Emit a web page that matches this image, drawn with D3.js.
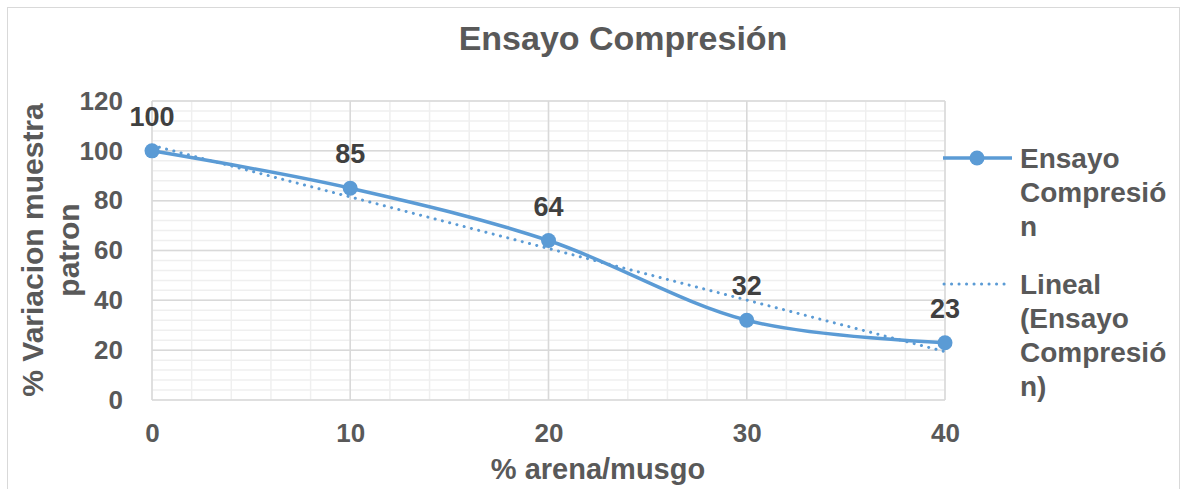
<!DOCTYPE html>
<html>
<head>
<meta charset="utf-8">
<script src="https://cdn.jsdelivr.net/npm/d3@7"></script>
<style>
  body { margin: 0; background: #fff; }
  text { font-family: "Liberation Sans", Arial, sans-serif; font-weight: bold; }
</style>
</head>
<body>
<div id="chart"></div>
<script>
// chart data
var arena = [0, 10, 20, 30, 40];
var variacion = [100, 85, 64, 32, 23];
var xTicks = [0, 10, 20, 30, 40];
var yTicks = [0, 20, 40, 60, 80, 100, 120];
var chartTitle = "Ensayo Compresión";
var xTitle = "% arena/musgo";
var yTitle = ["% Variacion muestra", "patron"];
var legendSerie = ["Ensayo", "Compresió", "n"];
var legendTrend = ["Lineal", "(Ensayo", "Compresió", "n)"];

var svgWidth = 1182;
var svgHeight = 489;
var margin = { top: 101, right: 237, bottom: 89, left: 152 };
var width = svgWidth - margin.left - margin.right;
var height = svgHeight - margin.top - margin.bottom;

var blue = "#5B9BD5";
var textGray = "#595959";

var svg = d3.select("#chart")
    .append("svg")
    .attr("width", svgWidth)
    .attr("height", svgHeight);

// outer chart border
svg.append("rect")
    .attr("x", 7.5).attr("y", 7.5)
    .attr("width", svgWidth - 10).attr("height", svgHeight - 5)
    .attr("fill", "none")
    .attr("stroke", "#d9d9d9");

var chartGroup = svg.append("g")
    .attr("transform", `translate(${margin.left}, ${margin.top})`);

var x = d3.scaleLinear().domain([0, 40]).range([0, width]);
var y = d3.scaleLinear().domain([0, 120]).range([height, 0]);

// minor grid
var minorX = d3.range(0, 40.1, 2);
var minorY = d3.range(0, 120.1, 4);
chartGroup.append("g").selectAll("line")
    .data(minorX).enter().append("line")
    .attr("x1", d => x(d)).attr("x2", d => x(d))
    .attr("y1", 0).attr("y2", height)
    .attr("stroke", "#efefef").attr("stroke-width", 1.5);
chartGroup.append("g").selectAll("line")
    .data(minorY).enter().append("line")
    .attr("x1", 0).attr("x2", width)
    .attr("y1", d => y(d)).attr("y2", d => y(d))
    .attr("stroke", "#efefef").attr("stroke-width", 1.5);

// major grid
chartGroup.append("g").selectAll("line")
    .data(xTicks).enter().append("line")
    .attr("x1", d => x(d)).attr("x2", d => x(d))
    .attr("y1", 0).attr("y2", height)
    .attr("stroke", "#d9d9d9").attr("stroke-width", 1.5);
chartGroup.append("g").selectAll("line")
    .data(yTicks).enter().append("line")
    .attr("x1", 0).attr("x2", width)
    .attr("y1", d => y(d)).attr("y2", d => y(d))
    .attr("stroke", "#d9d9d9").attr("stroke-width", 1.5);

// axes (labels only)
var bottomAxis = d3.axisBottom(x).tickValues(xTicks).tickSize(0).tickPadding(24);
var leftAxis = d3.axisLeft(y).tickValues(yTicks).tickSize(0).tickPadding(29);

var gx = chartGroup.append("g")
    .attr("transform", `translate(0, ${height})`)
    .call(bottomAxis);
var gy = chartGroup.append("g").call(leftAxis);
[gx, gy].forEach(function (g) {
    g.select(".domain").remove();
    g.selectAll("text")
        .attr("fill", textGray)
        .style("font-size", "26px")
        .style("font-family", "'Liberation Sans', Arial, sans-serif")
        .style("font-weight", "bold");
});

// linear trend (least squares)
var mx = d3.mean(arena), my = d3.mean(variacion);
var sxy = d3.sum(arena, (d, i) => (d - mx) * (variacion[i] - my));
var sxx = d3.sum(arena, d => (d - mx) * (d - mx));
var slope = sxy / sxx;
var intercept = my - slope * mx;
var trend = [arena[0], arena[arena.length - 1]].map(d => [d, intercept + slope * d]);

chartGroup.append("path")
    .datum(trend)
    .attr("d", d3.line().x(d => x(d[0])).y(d => y(d[1])))
    .attr("fill", "none")
    .attr("stroke", blue)
    .attr("stroke-width", 3)
    .attr("stroke-linecap", "round")
    .attr("stroke-dasharray", "0.1 7.4");

// smoothed series
var points = arena.map((d, i) => [d, variacion[i]]);
chartGroup.append("path")
    .datum(points)
    .attr("d", d3.line().x(d => x(d[0])).y(d => y(d[1])).curve(d3.curveCardinal.tension(0)))
    .attr("fill", "none")
    .attr("stroke", blue)
    .attr("stroke-width", 3.5);

chartGroup.selectAll("circle")
    .data(points).enter().append("circle")
    .attr("cx", d => x(d[0]))
    .attr("cy", d => y(d[1]))
    .attr("r", 7.5)
    .attr("fill", blue);

// data labels
chartGroup.append("g").selectAll("text")
    .data(points).enter().append("text")
    .attr("x", d => x(d[0]))
    .attr("y", d => y(d[1]) - 25)
    .attr("text-anchor", "middle")
    .attr("fill", "#404040")
    .style("font-size", "27px")
    .text(d => d[1]);

// title
svg.append("text")
    .attr("x", 623)
    .attr("y", 50)
    .attr("text-anchor", "middle")
    .attr("fill", textGray)
    .style("font-size", "34px")
    .text(chartTitle);

// axis titles
svg.append("text")
    .attr("x", 598)
    .attr("y", 479)
    .attr("text-anchor", "middle")
    .attr("fill", textGray)
    .style("font-size", "29px")
    .text(xTitle);

svg.append("g")
    .attr("transform", "translate(0, 250) rotate(-90)")
    .selectAll("text")
    .data(yTitle).enter().append("text")
    .attr("x", 0)
    .attr("y", (d, i) => 43 + i * 36)
    .attr("text-anchor", "middle")
    .attr("fill", textGray)
    .style("font-size", "30px")
    .text(d => d);

// legend
var legend = svg.append("g").attr("transform", "translate(943, 158)");
legend.append("line")
    .attr("x1", 0).attr("x2", 69).attr("y1", 0).attr("y2", 0)
    .attr("stroke", blue).attr("stroke-width", 3.5);
legend.append("circle")
    .attr("cx", 34).attr("cy", 0).attr("r", 7.5).attr("fill", blue);
legend.append("line")
    .attr("x1", 1).attr("x2", 68).attr("y1", 126).attr("y2", 126)
    .attr("stroke", blue).attr("stroke-width", 3)
    .attr("stroke-linecap", "round")
    .attr("stroke-dasharray", "0.1 7.4");

legend.append("g").selectAll("text")
    .data(legendSerie).enter().append("text")
    .attr("x", 77)
    .attr("y", (d, i) => 10 + i * 34)
    .attr("fill", textGray)
    .style("font-size", "28px")
    .text(d => d);
legend.append("g").selectAll("text")
    .data(legendTrend).enter().append("text")
    .attr("x", 77)
    .attr("y", (d, i) => 136 + i * 34)
    .attr("fill", textGray)
    .style("font-size", "28px")
    .text(d => d);
</script>
</body>
</html>
